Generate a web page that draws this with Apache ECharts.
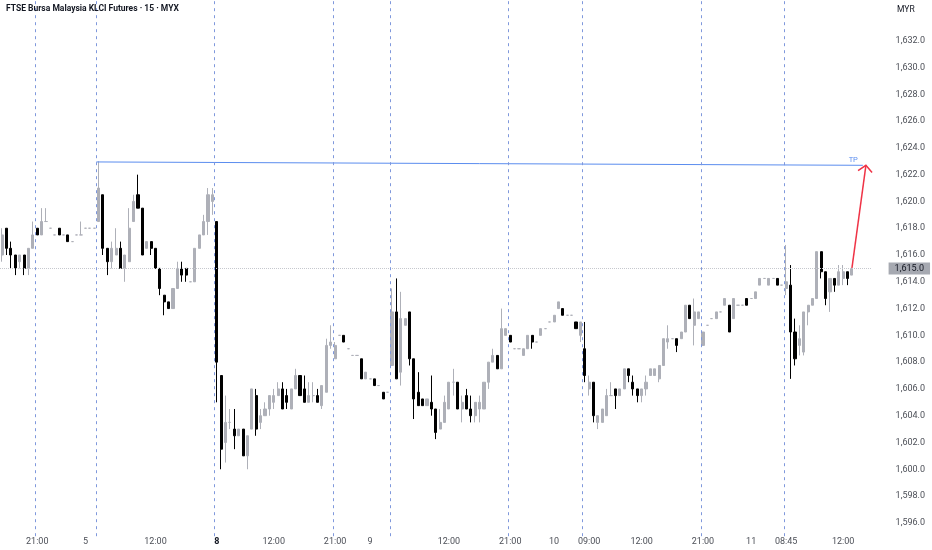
<!DOCTYPE html>
<html>
<head>
<meta charset="utf-8">
<script src="https://cdn.jsdelivr.net/npm/echarts@6/dist/echarts.min.js"></script>
<style>
html,body{margin:0;padding:0;background:#ffffff;}
#chart{width:932px;height:550px;}
</style>
</head>
<body>
<div id="chart"></div>
<script>
// ---- data (15-minute bars): [open, close, low, high] ----
const ohlc = [
[1616.0,1617.5,1615.5,1618.0],[1618.0,1616.5,1616.0,1618.0],[1616.5,1616.0,1615.0,1617.0],[1616.0,1615.0,1614.5,1616.0],
[1615.5,1616.0,1615.0,1616.0],[1616.0,1615.0,1614.5,1616.0],[1615.0,1616.5,1614.5,1616.5],[1616.5,1617.5,1616.5,1618.5],
[1618.0,1617.5,1617.5,1618.0],[1617.5,1618.5,1617.5,1619.5],[1618.5,1618.5,1618.5,1619.5],[1618.0,1618.0,1618.0,1618.0],
[1617.5,1617.5,1617.5,1617.5],[1618.0,1617.5,1617.5,1618.0],[1617.5,1617.5,1617.5,1617.5],[1617.5,1617.0,1617.0,1617.5],
[1617.0,1617.0,1617.0,1617.0],[1617.5,1617.5,1617.5,1617.5],[1617.5,1617.5,1617.5,1618.5],[1618.0,1618.0,1618.0,1618.0],
[1618.0,1618.0,1618.0,1618.0],[1618.0,1618.0,1618.0,1618.0],[1618.5,1621.0,1618.5,1623.0],[1620.5,1616.5,1616.0,1620.5],
[1616.5,1615.5,1614.5,1616.5],[1615.5,1616.5,1615.0,1617.0],[1616.0,1616.5,1616.0,1618.0],[1616.5,1615.0,1615.0,1617.0],
[1615.0,1616.0,1614.0,1616.0],[1615.5,1618.0,1615.5,1619.5],[1618.5,1620.0,1618.5,1620.5],[1620.5,1619.5,1619.5,1622.0],
[1619.5,1616.0,1616.0,1619.5],[1616.5,1617.0,1616.5,1617.0],[1617.0,1616.5,1616.0,1617.0],[1616.5,1615.0,1615.0,1616.5],
[1615.0,1613.5,1613.0,1615.0],[1613.0,1612.5,1611.5,1613.0],[1612.5,1612.0,1612.0,1612.5],[1612.0,1613.5,1612.0,1613.5],
[1613.5,1615.0,1613.5,1615.5],[1615.0,1614.5,1614.0,1615.5],[1615.0,1614.5,1614.0,1615.0],[1614.0,1614.0,1614.0,1614.0],
[1614.0,1616.5,1614.0,1616.5],[1616.5,1617.5,1616.5,1617.5],[1617.5,1618.5,1617.5,1619.0],[1618.5,1620.5,1617.5,1621.0],
[1620.0,1620.5,1619.0,1621.0],[1618.5,1608.0,1605.0,1618.5],[1607.0,1601.5,1600.0,1607.0],[1602.0,1603.5,1600.5,1605.5],
[1603.5,1603.5,1603.0,1604.5],[1603.0,1602.5,1601.5,1604.5],[1602.5,1603.0,1602.5,1603.0],[1603.0,1601.0,1601.0,1603.0],
[1601.0,1602.5,1600.0,1602.5],[1603.0,1606.0,1603.0,1606.0],[1605.5,1603.0,1602.5,1606.0],[1603.5,1604.0,1603.0,1604.5],
[1604.0,1604.5,1604.0,1605.0],[1604.5,1605.5,1604.0,1605.5],[1605.0,1605.5,1604.5,1606.0],[1605.5,1606.0,1605.5,1606.5],
[1606.0,1604.5,1604.5,1606.5],[1605.5,1605.0,1604.5,1606.0],[1604.5,1606.0,1604.5,1606.0],[1606.0,1607.0,1606.0,1607.5],
[1607.0,1605.5,1605.5,1607.0],[1606.0,1605.0,1605.0,1607.0],[1605.0,1605.5,1605.0,1606.5],[1605.5,1605.5,1605.0,1606.5],
[1605.5,1605.0,1605.0,1606.0],[1604.75,1606.25,1604.5,1606.25],[1605.75,1609.25,1605.75,1609.75],[1609.25,1609.5,1609.0,1610.75],
[1608.25,1609.25,1608.25,1609.5],[1610.0,1610.0,1610.0,1610.0],[1610.0,1609.5,1609.5,1610.0],[1609.0,1609.0,1609.0,1609.0],
[1608.5,1608.5,1608.5,1608.5],[1608.5,1608.5,1608.5,1608.5],[1608.25,1606.75,1606.75,1608.25],[1606.75,1607.25,1606.75,1607.25],
[1606.75,1606.75,1606.75,1606.75],[1606.75,1606.25,1606.25,1606.75],[1606.25,1606.25,1606.25,1606.25],[1605.75,1605.25,1605.25,1605.75],
[1605.75,1605.75,1605.75,1605.75],[1607.75,1611.75,1607.75,1613.5],[1611.75,1606.75,1606.75,1614.25],[1607.25,1611.25,1606.25,1613.25],
[1610.75,1611.25,1610.75,1611.25],[1611.75,1608.25,1607.75,1611.75],[1608.25,1605.25,1603.75,1608.25],[1605.75,1604.75,1604.75,1607.25],
[1605.25,1604.75,1604.75,1605.25],[1604.75,1605.25,1604.75,1605.25],[1605.0,1604.5,1604.0,1607.0],[1604.5,1602.75,1602.25,1604.5],
[1603.0,1603.5,1603.0,1604.5],[1603.5,1605.0,1603.5,1605.5],[1604.5,1606.5,1604.5,1606.5],[1606.5,1606.5,1605.5,1607.5],
[1606.5,1604.5,1604.5,1606.5],[1604.5,1605.0,1603.5,1605.5],[1605.5,1604.5,1604.5,1606.0],[1604.5,1604.0,1603.5,1605.5],
[1604.0,1605.0,1603.5,1605.0],[1604.5,1605.0,1603.5,1605.5],[1604.5,1606.5,1604.5,1606.5],[1606.5,1608.0,1606.0,1608.0],
[1608.0,1608.5,1608.0,1609.0],[1608.5,1607.5,1607.5,1608.5],[1607.5,1610.5,1607.5,1612.0],[1610.0,1610.5,1610.0,1610.5],
[1610.0,1609.5,1609.5,1610.0],[1609.0,1609.0,1609.0,1609.0],[1609.0,1609.0,1609.0,1609.0],[1608.5,1609.0,1608.5,1609.0],
[1609.0,1610.0,1609.0,1610.0],[1610.0,1609.5,1609.0,1610.0],[1609.5,1609.5,1609.5,1609.5],[1610.0,1610.5,1610.0,1610.5],
[1610.5,1610.5,1610.5,1610.5],[1611.0,1611.0,1611.0,1611.0],[1611.0,1611.5,1611.0,1611.5],[1612.0,1612.5,1612.0,1612.5],
[1612.0,1611.5,1611.5,1612.0],[1611.5,1611.5,1611.5,1611.5],[1611.5,1611.5,1611.5,1611.5],[1611.0,1610.5,1610.5,1611.0],
[1610.0,1611.0,1609.5,1611.0],[1609.0,1607.0,1606.5,1611.0],[1606.0,1606.5,1605.5,1607.0],[1606.5,1604.0,1603.5,1606.5],
[1603.5,1604.0,1603.0,1604.0],[1603.5,1604.5,1603.5,1604.5],[1604.0,1605.5,1604.0,1606.0],[1605.5,1605.5,1605.5,1606.5],
[1606.0,1605.5,1604.5,1606.0],[1605.5,1606.0,1605.5,1606.0],[1606.0,1607.5,1606.0,1607.5],[1607.5,1607.0,1606.5,1607.5],
[1606.5,1606.0,1605.5,1607.0],[1606.0,1605.5,1605.0,1606.0],[1605.5,1606.0,1605.0,1606.0],[1606.0,1606.5,1605.5,1607.0],
[1607.0,1607.5,1607.0,1607.5],[1607.0,1607.5,1607.0,1607.5],[1606.75,1607.75,1606.5,1607.75],[1607.75,1609.75,1607.75,1609.75],
[1609.5,1609.75,1609.0,1610.75],[1609.75,1609.75,1609.75,1609.75],[1609.75,1609.25,1608.75,1609.75],[1609.75,1610.25,1609.75,1610.25],
[1610.25,1612.25,1610.25,1612.25],[1612.25,1611.25,1611.25,1612.25],[1610.75,1611.75,1609.25,1612.75],[1611.25,1611.75,1611.25,1611.75],
[1609.25,1610.25,1609.25,1610.25],[1610.75,1610.75,1610.75,1610.75],[1611.25,1611.25,1611.25,1611.25],[1611.25,1611.75,1611.25,1611.75],
[1611.75,1611.75,1611.75,1611.75],[1612.25,1612.75,1612.25,1612.75],[1612.25,1610.25,1610.25,1612.25],[1611.25,1612.75,1611.25,1612.75],
[1612.25,1612.25,1612.25,1612.25],[1612.25,1612.25,1612.25,1612.25],[1612.75,1612.25,1612.25,1612.75],[1612.75,1612.75,1612.75,1612.75],
[1612.75,1613.25,1612.75,1613.25],[1613.75,1614.25,1613.75,1614.25],[1614.25,1614.25,1614.25,1614.25],[1613.75,1614.25,1613.75,1614.25],
[1614.25,1614.25,1614.25,1614.25],[1614.25,1613.75,1613.75,1614.25],[1613.75,1613.75,1613.75,1613.75],[1613.5,1614.0,1613.0,1616.75],
[1613.75,1610.25,1606.75,1615.25],[1610.25,1608.25,1607.75,1611.25],[1609.25,1609.75,1608.5,1610.75],[1608.75,1611.75,1608.5,1611.75],
[1611.75,1612.25,1610.75,1612.25],[1612.25,1612.75,1612.25,1612.75],[1612.75,1616.25,1612.75,1616.25],[1616.25,1614.75,1614.25,1616.25],
[1614.75,1612.75,1612.25,1614.75],[1613.25,1614.25,1611.75,1614.25],[1614.25,1613.75,1613.25,1614.25],[1613.75,1614.75,1613.75,1615.25],
[1614.25,1614.75,1613.75,1615.25],[1614.75,1614.25,1613.75,1614.75],[1614.5,1615.0,1614.5,1615.0]
];
const slotCount = 199;                       // bar slots on the time axis (incl. right margin)
const tickLabels = [[8,'21:00'],[19,'5'],[35,'12:00'],[49,'8',true],[62,'12:00'],[76,'21:00'],[84,'9'],
  [102,'12:00'],[116,'21:00'],[126,'10'],[134,'09:00'],[146,'12:00'],[160,'21:00'],[171,'11'],[179,'08:45'],[192,'12:00']];
const priceTicksShown = [1596, 1632];        // first and last labelled price (step 2)
const sessionLines = [7.5,21.5,48.5,75.5,88.5,115.5,132.5,159.5,178.5];
const tpLine = [[21.5,1622.95],[196.5,1622.7]];
const tpArrow = [[194,1615.0,197.2,1622.7]];
const lastPrice = 1615.0;
const yMin = 1595, yMax = 1635;

// ---- chart ----
const UP = '#aeb0b8', DOWN = '#000000', BLUE = '#5b8def', RED = '#ef3346';
const TXT = '#4c4f57', FONT = 'Roboto';
const labelMap = {};
tickLabels.forEach(t => { labelMap[t[0]] = {text: t[1], bold: !!t[2]}; });
const categories = Array.from({length: slotCount}, (_, i) => String(i));
const candleData = ohlc.map(d => d[0] === d[1]
  ? {value: d, itemStyle: {color: UP, color0: UP, borderColor: UP, borderColor0: UP}}
  : d);
const fmtPrice = v => v.toLocaleString('en-US', {minimumFractionDigits: 1, maximumFractionDigits: 1});

const chart = echarts.init(document.getElementById('chart'));
chart.setOption({
  animation: false,
  backgroundColor: '#ffffff',
  title: [
    {text: 'FTSE Bursa Malaysia KLCI Futures · 15 · MYX', left: 6, top: 4, padding: 0,
     textStyle: {fontSize: 8.5, fontWeight: 'bold', color: '#131722', fontFamily: FONT}},
    {text: 'MYR', left: 897, top: 5, padding: 0,
     textStyle: {fontSize: 8.5, fontWeight: 'normal', color: '#131722', fontFamily: FONT}}
  ],
  grid: {left: 0, right: 60.4, top: 0.6, bottom: 13.8},
  xAxis: [
    {type: 'category', data: categories, boundaryGap: true,
     axisLine: {show: false}, axisTick: {show: false}, splitLine: {show: false},
     axisLabel: {
       interval: (i) => !!labelMap[i],
       formatter: (v, i) => labelMap[i] ? (labelMap[i].bold ? '{b|' + labelMap[i].text + '}' : labelMap[i].text) : '',
       margin: 1, color: TXT, fontSize: 9, fontFamily: FONT,
       rich: {b: {fontWeight: 'bold', color: '#131722', fontSize: 9, fontFamily: FONT}}
     }},
    {type: 'value', min: -0.5, max: slotCount - 0.5, show: false}
  ],
  yAxis: {
    type: 'value', position: 'right', min: yMin, max: yMax, interval: 1,
    axisLine: {show: false}, axisTick: {show: false}, splitLine: {show: false},
    axisLabel: {
      formatter: v => (v % 2 === 0 && v >= priceTicksShown[0] && v <= priceTicksShown[1] ? fmtPrice(v) : ''),
      margin: 24, color: TXT, fontSize: 9, fontFamily: FONT
    }
  },
  series: [
    {
      type: 'candlestick', xAxisIndex: 0, data: candleData, barWidth: 2.6, silent: true,
      itemStyle: {color: UP, color0: DOWN, borderColor: UP, borderColor0: DOWN, borderWidth: 1},
      markLine: {
        silent: true, symbol: ['none', 'none'], animation: false,
        data: [{yAxis: lastPrice}],
        lineStyle: {type: 'dotted', color: '#c6c8ce', width: 1},
        label: {show: true, position: 'end', distance: 17, formatter: () => fmtPrice(lastPrice),
                backgroundColor: '#a6a9b1', color: '#131722', padding: [2, 6, 1, 6],
                fontSize: 9, fontFamily: FONT}
      }
    },
    {
      type: 'line', xAxisIndex: 1, data: tpLine, showSymbol: false, silent: true,
      lineStyle: {color: BLUE, width: 1},
      markLine: {
        silent: true, symbol: ['none', 'none'], animation: false,
        data: sessionLines.map(v => ({xAxis: v})),
        lineStyle: {type: [3, 4], color: '#7f98dc', width: 1},
        label: {show: false}
      }
    },
    {
      type: 'custom', xAxisIndex: 1, data: [tpLine[1]], clip: false, silent: true,
      renderItem: (params, api) => {
        const p = api.coord([api.value(0), api.value(1)]);
        return {type: 'text', style: {text: 'TP', x: p[0] - 5, y: p[1] - 1.5, align: 'right', verticalAlign: 'bottom',
                fill: BLUE, fontSize: 7.5, fontFamily: FONT}};
      }
    },
    {
      type: 'custom', xAxisIndex: 1, data: tpArrow, clip: false, silent: true,
      renderItem: (params, api) => {
        const a = api.coord([api.value(0), api.value(1)]);
        const b = api.coord([api.value(2), api.value(3)]);
        const ang = Math.atan2(a[1] - b[1], a[0] - b[0]);
        const L = 9.5, s = 48 * Math.PI / 180;
        const w1 = [b[0] + L * Math.cos(ang + s), b[1] + L * Math.sin(ang + s)];
        const w2 = [b[0] + L * Math.cos(ang - s), b[1] + L * Math.sin(ang - s)];
        return {type: 'group', children: [
          {type: 'line', shape: {x1: a[0], y1: a[1], x2: b[0], y2: b[1]}, style: {stroke: RED, lineWidth: 1.5}},
          {type: 'polyline', shape: {points: [w1, b, w2]}, style: {stroke: RED, lineWidth: 1.5, fill: null}}
        ]};
      }
    }
  ]
});
</script>
</body>
</html>
